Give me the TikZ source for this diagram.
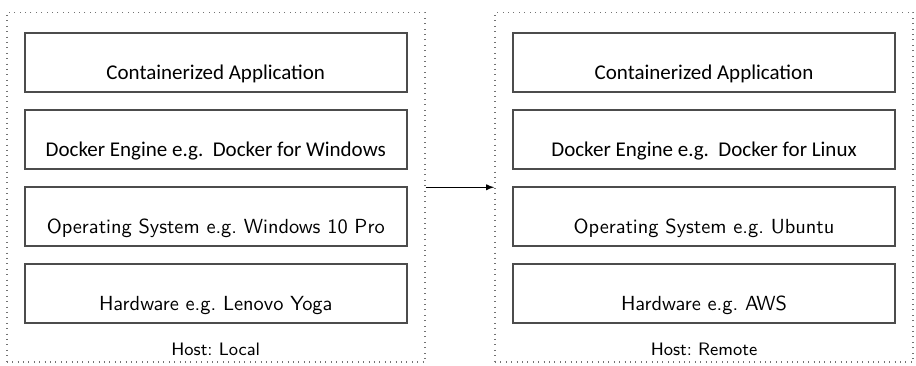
\documentclass[tikz,border=0pt]{standalone}
\usepackage{fontspec}
\newfontfamily\calfont{Carlito}
\usetikzlibrary{arrows,positioning}
\frenchspacing

\begin{document}
\begin{tikzpicture}[->,>=latex,x=0.5pt,y=0.5pt,node distance=8pt,
                    semithick]
  \tikzstyle{host}=[rectangle,draw=black!55,line width=0.8pt,
                    dash pattern=on 0.4pt off 2.3pt,
                    minimum width=209pt,minimum height=174.75pt]
  \tikzstyle{layer}=[rectangle,draw=black!70,fill=white,line width=1pt,
                     minimum width=191pt,minimum height=29.5pt,
                     text height=16.5pt,text depth=0pt,font=\sffamily\fontsize{10.2}{12}\selectfont]
  \tikzstyle{toplayer}=[layer,font=\calfont\fontsize{10.5}{12}\selectfont]
  \tikzstyle{hostname}=[font=\sffamily\fontsize{9}{11}\selectfont]

  \useasboundingbox (0,0) rectangle (916,365);

  \node[host] (local)  at (215.75,177.75) {};
  \node[host] (remote) at (704,177.75)    {};

  \node[toplayer] (loc1) [below=10.25pt of local.north] {Containerized Application};
  \node[toplayer] (loc2) [below=of loc1] {Docker Engine e.g.\ \ Docker for Windows};
  \node[layer]    (loc3) [below=of loc2] {Operating System e.g. Windows 10 Pro};
  \node[layer]    (loc4) [below=of loc3] {Hardware e.g. Lenovo Yoga};
  \node[hostname] (loclbl) [above=0pt of local.south] {Host: Local};

  \node[toplayer] (rem1) [below=10.25pt of remote.north] {Containerized Application};
  \node[toplayer] (rem2) [below=of rem1] {Docker Engine e.g.\ \ Docker for Linux};
  \node[layer]    (rem3) [below=of rem2] {Operating System e.g. Ubuntu};
  \node[layer]    (rem4) [below=of rem3] {Hardware e.g. AWS};
  \node[hostname] (remlbl) [above=0pt of remote.south] {Host: Remote};

  \path (local.east) edge[thin] (remote.west);

\end{tikzpicture}
\end{document}
